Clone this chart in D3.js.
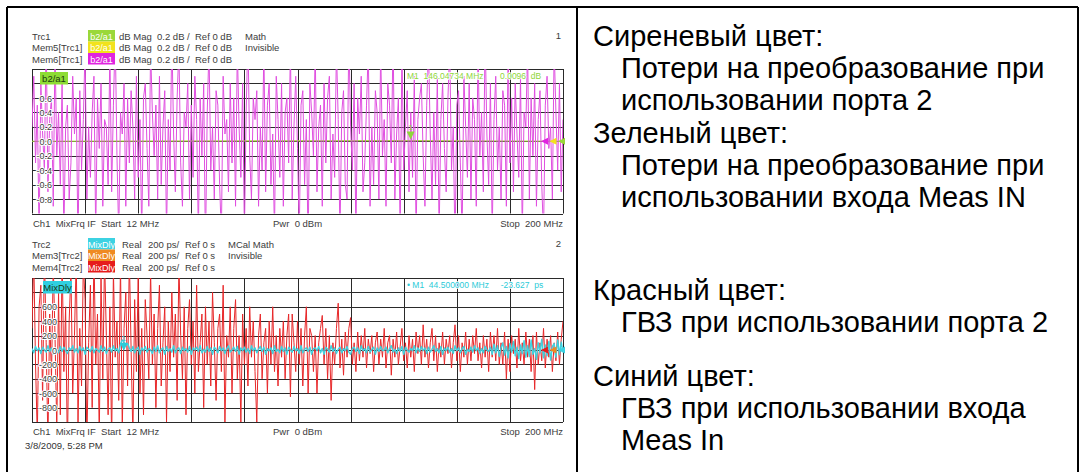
<!DOCTYPE html>
<html>
<head>
<meta charset="utf-8">
<script src="https://cdn.jsdelivr.net/npm/d3@7"></script>
<style>
  body { margin: 0; background: #fff; }
  svg text { font-family: "Liberation Sans", Arial, sans-serif; }
</style>
</head>
<body>
<svg id="chart" width="1082" height="472"></svg>
<script>
// sweep
const startMHz = 12;
const stopMHz = 200;

// tick labels (top one sits under the trace label box, not printed)
const dbTicks = [0.6, 0.4, 0.2, 0.0, -0.2, -0.4, -0.6, -0.8];
const psTicks = [600, 400, 200, 0, -200, -400, -600, -800];

// header rows of the two diagrams
const diag1Rows = [
    { name: 'Trc1', tag: 'b2/a1', color: '#9ad83a', fmt: 'dB Mag', scale: '0.2 dB /', ref: 'Ref 0 dB', note: 'Math' },
    { name: 'Mem5[Trc1]', tag: 'b2/a1', color: '#f2e21c', fmt: 'dB Mag', scale: '0.2 dB /', ref: 'Ref 0 dB', note: 'Invisible' },
    { name: 'Mem6[Trc1]', tag: 'b2/a1', color: '#e024e0', fmt: 'dB Mag', scale: '0.2 dB /', ref: 'Ref 0 dB', note: '' }
];
const diag2Rows = [
    { name: 'Trc2', tag: 'MixDly', color: '#3cd2e2', fmt: 'Real', scale: '200 ps/', ref: 'Ref 0 s', note: 'MCal Math' },
    { name: 'Mem3[Trc2]', tag: 'MixDly', color: '#ef8a22', fmt: 'Real', scale: '200 ps/', ref: 'Ref 0 s', note: 'Invisible' },
    { name: 'Mem4[Trc2]', tag: 'MixDly', color: '#e61c1c', fmt: 'Real', scale: '200 ps/', ref: 'Ref 0 s', note: '' }
];

// Mem6[Trc1] conversion loss, port 2 (dB), 301 points
const mem6Trc1 = [
    0.2, 0.9, -0.3, 0.5, -1.3, 0.8, 0.1, -0.4, 1.5, -0.7, 0.3, 0.6, -0.9, 1.3, -0.2, 0.4, -0.6, 0.8, -1.3, 0.2,
    0.5, -0.8, -0.3, 0.9, 0.1, 0.6, -1.5, 0.7, -0.4, 0.3, 1.3, -0.8, 0.2, -0.5, 0.4, 0.9, -1.3, 0.6, -0.1, 0.8,
    -0.9, 0.3, 0.2, -0.6, 1.3, -0.7, 0.5, 1.5, -0.2, -1.3, 0.4, 0.1, 0.8, -0.9, 0.6, -0.3, 0.7, 0.2, -0.8, 0.9,
    -0.5, 0.3, -1.3, 0.6, 0.8, -0.1, -0.9, 1.3, 0.4, -0.2, 0.5, -0.8, 0.9, -0.6, 0.2, 0.7, -1.3, 0.3, -0.4, 1.5,
    0.1, -0.7, 0.6, 1.3, -0.3, -0.9, 0.4, 0.2, 0.8, -0.8, 0.5, -0.5, 0.9, 0.3, -1.3, 0.6, -0.2, 0.8, -1.5, 0.4,
    1.3, -0.4, 0.2, -0.8, 0.7, 0.5, -0.6, -1.3, 0.9, 0.1, 0.3, -0.7, 0.8, -0.3, 0.6, -0.9, 1.3, 0.2, -0.5, 0.8,
    -1.3, 0.4, 1.5, -0.2, -0.8, 0.6, 0.3, 0.7, -0.9, 0.2, -0.4, 1.3, -0.7, 0.5, 0.8, -0.6, 0.1, -1.3, 0.9, 0.3,
    -0.5, 0.8, -0.9, 0.4, 0.6, -0.3, 1.3, -0.8, 0.2, 0.9, -0.1, -1.3, 0.5, 0.7, -0.6, 0.3, -1.5, 0.8, 0.4, -0.2,
    1.3, -0.7, 0.2, 0.5, -0.9, 0.8, -0.3, 0.6, 0.9, -0.8, 0.1, -0.5, 1.3, 0.3, -1.3, 0.4, 0.7, -0.6, -0.8, 1.5,
    0.2, -0.4, 0.8, -1.3, 0.6, 0.1, 0.9, -0.7, -0.3, 0.5, 1.3, -0.9, 0.2, -0.6, 0.7, 0.4, -0.8, 1.3, -0.2, 0.3,
    -0.9, 0.8, 0.5, -0.3, 1.5, -0.8, 0.1, 0.6, -1.3, 1.3, -0.4, 0.2, 0.7, -0.7, 0.4, -0.5, 0.9, -1.3, 0.3, 0.6,
    0.8, -0.2, -0.9, 0.5, 1.3, 0.1, -0.8, 0.4, -0.6, 0.9, -1.3, 0.3, 0.8, -0.1, -0.7, 0.6, 1.3, -0.4, 0.2, -1.5,
    0.5, 0.7, -0.3, -1.3, 0.9, 0.2, -0.5, 0.8, -0.8, 0.6, 0.3, -0.9, 1.3, -0.2, 0.4, -0.7, 1.5, 0.1, -0.6, 0.8,
    -1.3, 0.3, 0.9, -0.4, 0.2, -0.8, 0.7, 0.5, -0.9, 1.3, -0.3, 0.6, -0.7, 0.8, 0.1, -0.5, 0.9, -1.3, 0.4, 0.2,
    1.3, -0.8, 0.6, -0.2, 0.8, -0.9, 0.3, 0.7, -0.6, -1.3, 0.5, 0.9, -0.1, 0.2, -0.8, 1.3, 0.4, -0.4, 0.8, -0.7, 0.3
];

// Trc1 math result (dB) at start, marker, stop
const trc1Freq = [12, 146.04734, 200];
const trc1Math = [0.0, 0.0096, 0.0];

// Mem4[Trc2] group delay, port 2 (ps), 301 points
const mem4Trc2 = [
    300, 1300, -200, -1200, 600, 900, -700, 1400, 100, -1300, 500, -400, 1200, 200, -1100, 800, -900, 1300, -300, 600,
    -1400, 400, 1100, -600, 200, 1300, -1000, 300, -500, 1200, 700, -1300, 100, 900, -800, 1400, -200, 500, -1200, 1000,
    -400, 1300, 200, -900, 600, -1300, 1100, -100, 400, -700, 1200, -1100, 300, 800, -500, 1300, 0, -1200, 700, -300,
    1000, -600, 300, -900, 700, 200, -400, 1100, -200, 500, -800, 300, 900, -500, 100, 600, -1000, 400, -300, 800,
    -100, 500, -700, 1200, 200, -400, 600, -900, 300, 700, -200, 400, -600, 900, -300, 100, 500, -800, 600, -200,
    400, -500, 800, 100, -700, 300, 500, -300, 900, -1000, 200, -100, 600, -600, 300, 700, -400, 200, -1000, 500,
    -200, 300, -500, 600, -100, 400, -300, -1000, 200, 500, -400, 100, 300, -600, 400, -200, 600, -300, 200, -500,
    300, -100, 400, -400, 200, 500, -650, 500, 100, -300, 400, -200, 300, -500, 200, 600, -600, 300, 200, -300,
    200, -600, 100, 300, 480, -200, 300, -400, 200, -700, 100, -200, 300, 650, -250, 150, -350, 250, -100, 300,
    450, -200, 100, -300, 250, -150, 200, -100, 300, -250, 150, -50, 200, -300, 100, 250, -200, 150, -100, 300,
    -250, 100, 200, -350, 150, -100, 250, -200, 50, 300, -150, 100, -250, 200, -100, 150, -300, 250, -50, 200,
    -200, 350, -100, 150, -250, 100, 300, -150, 200, -300, 100, -100, 250, -200, 150, -50, 200, -250, 100, 350,
    -150, 200, -300, 100, -100, 250, -200, 150, -150, 200, -50, 300, -150, 100, -250, 200, -100, 150, -300, 250,
    -100, 200, -150, 300, -200, 100, -200, 250, -400, 150, -300, 200, -50, 150, -250, 300, -150, 100, -200, 250,
    -100, 150, -300, 200, -550, 250, -200, 100, -150, 300, -250, 150, -100, 200, -300, 100, -150, 250, -200, 150, 400
];

// Trc2 group delay, Meas IN (ps), 301 points
const trc2Delay = [
    20, -40, 50, -10, 30, -50, 40, 0, -30, 60, -20, 30, -60, 20, 10, -40, 50, -20, 40, -10,
    -50, 30, 0, 60, -30, 20, -40, 50, -10, 30, -60, 40, 10, -20, 50, -40, 20, 0, -30, 60,
    -20, 40, -50, 10, 30, -30, 60, -10, 20, -40, 80, 140, 110, 60, 90, 30, -20, 50, -40, 10,
    40, -60, 30, -10, 50, -30, 20, 0, -50, 40, -20, 60, -40, 10, 30, -60, 50, -20, 20, -30,
    60, -40, 10, 30, -50, 40, -10, 20, -30, 50, -60, 30, 0, 40, -20, 60, -40, 10, -30, 50,
    -20, 30, -60, 40, 10, -40, 50, -10, 30, -50, 20, 60, -30, 0, 40, -20, 50, -60, 30, -10,
    40, -30, 20, -50, 60, -10, 30, -40, 10, 50, -20, 40, -60, 20, -10, 30, -50, 60, -20, 10,
    -40, 50, -20, 30, -60, 40, 0, -30, 50, -10, 20, -50, 60, -40, 10, 30, -20, 40, -60, 20,
    30, -10, 50, -40, 20, -60, 40, 10, -30, 60, -20, 30, -50, 10, 40, -40, 20, -10, 50, -30,
    -60, 20, 40, -20, 30, -50, 60, -10, 20, -40, 50, -30, 10, 40, -60, 30, -20, 50, -10, 0,
    40, -40, 20, 60, -30, 10, -50, 30, -20, 50, -60, 40, 0, -30, 20, -10, 60, -40, 30, -20,
    50, -10, 30, -50, 40, -30, 10, 60, -20, 20, -40, 50, -60, 30, -10, 40, -30, 20, -50, 60,
    -10, 30, -40, 20, 50, -60, 10, -20, 40, -30, 60, -10, 30, -50, 20, -40, 50, 0, -20, 40,
    -60, 80, -40, 60, -90, 30, 100, -70, 50, -110, 90, -30, 120, -80, 40, -120, 70, -50, 130, -100,
    60, -90, 140, -60, 20, -130, 100, -40, 150, -110, 70, -80, 120, -140, 50, 90, -100, 140, -60, 110, -30
];

const marker1 = { f: 146.04734, v: 0.0096 };
const marker2 = { f: 44.5, v: -23.627 };

// text on the right
const legendGroups = [
    { title: 'Сиреневый цвет:', lines: ['Потери на преобразование при', 'использовании порта 2'] },
    { title: 'Зеленый цвет:', lines: ['Потери на преобразование при', 'использовании входа Meas IN'] },
    { title: 'Красный цвет:', lines: ['ГВЗ при использовании порта 2'] },
    { title: 'Синий цвет:', lines: ['ГВЗ при использовании входа', 'Meas In'] }
];

// ---------------------------------------------------------------
const svg = d3.select('#chart');
const plotLeft = 32, plotRight = 563;
const textGrey = '#3c3c3c';

// frame of the slide
svg.append('g').attr('stroke', '#000').attr('stroke-width', 2)
    .selectAll('line')
    .data([[7, 7, 1078, 7], [7, 7, 7, 480], [577, 7, 577, 480], [1078, 7, 1078, 480]])
    .enter().append('line')
    .attr('x1', d => d[0]).attr('y1', d => d[1]).attr('x2', d => d[2]).attr('y2', d => d[3]);

const xScale = d3.scaleLinear().domain([startMHz, stopMHz]).range([plotLeft, plotRight]);

function drawDiagram(cfg) {
    const g = svg.append('g');
    const yScale = d3.scaleLinear().domain(cfg.domain).range([cfg.bottom, cfg.top]);

    // header rows
    cfg.rows.forEach((r, i) => {
        const cy = cfg.headerY + i * 11.5;
        g.append('text').attr('x', 32).attr('y', cy + 3.5).attr('fill', textGrey)
            .style('font-size', '9.5px').text(r.name);
        g.append('rect').attr('x', 88).attr('y', cy - 6).attr('width', 27).attr('height', 11.5)
            .attr('fill', r.color);
        g.append('text').attr('x', 101.5).attr('y', cy + 3.5).attr('fill', '#fff')
            .attr('text-anchor', 'middle').style('font-size', '9px').text(r.tag);
        [r.fmt, r.scale, r.ref, r.note].forEach((t, k) => {
            g.append('text').attr('x', cfg.fmtX[k]).attr('y', cy + 3.5).attr('fill', textGrey)
                .style('font-size', '9.5px').text(t);
        });
    });
    g.append('text').attr('x', 561).attr('y', cfg.headerY + 3).attr('text-anchor', 'end')
        .attr('fill', textGrey).style('font-size', '9.5px').text(cfg.number);

    // grid, 10 x 10 divisions
    const vDiv = d3.range(11).map(i => startMHz + i * (stopMHz - startMHz) / 10);
    const hDiv = d3.range(11).map(i => cfg.domain[0] + i * (cfg.domain[1] - cfg.domain[0]) / 10);
    g.append('g').attr('stroke', '#2a2a2a').attr('stroke-width', 1)
        .selectAll('line').data(vDiv).enter().append('line')
        .attr('x1', d => Math.round(xScale(d)) + 0.5).attr('x2', d => Math.round(xScale(d)) + 0.5)
        .attr('y1', cfg.top).attr('y2', cfg.bottom);
    g.append('g').attr('stroke', '#2a2a2a').attr('stroke-width', 1)
        .selectAll('line').data(hDiv).enter().append('line')
        .attr('y1', d => Math.round(yScale(d)) + 0.5).attr('y2', d => Math.round(yScale(d)) + 0.5)
        .attr('x1', plotLeft).attr('x2', plotRight);

    // traces
    const clipId = 'clip' + cfg.number;
    svg.append('defs').append('clipPath').attr('id', clipId).append('rect')
        .attr('x', plotLeft).attr('y', cfg.top).attr('width', plotRight - plotLeft).attr('height', cfg.bottom - cfg.top);
    const traces = g.append('g').attr('clip-path', `url(#${clipId})`);
    cfg.traces.forEach(t => {
        const idx = d3.scaleLinear().domain([0, t.values.length - 1]).range([startMHz, stopMHz]);
        const line = d3.line()
            .x((d, i) => xScale(t.freq ? t.freq[i] : idx(i)))
            .y(d => yScale(d));
        traces.append('path').datum(t.values)
            .attr('d', line).attr('fill', 'none')
            .attr('stroke', t.color).attr('stroke-width', t.width)
            .attr('stroke-linejoin', 'round');
    });

    // y labels inside the diagram
    const axis = d3.axisLeft(yScale).tickValues(cfg.ticks).tickSize(0).tickPadding(0)
        .tickFormat(cfg.format);
    const ax = g.append('g').attr('transform', `translate(${cfg.labelX},0)`).call(axis);
    ax.select('.domain').remove();
    ax.selectAll('text').attr('fill', textGrey).style('font-size', '9px')
        .attr('stroke', '#fff').attr('stroke-width', 2).attr('paint-order', 'stroke')
        .attr('dy', '0.35em');

    // trace label box in diagram
    g.append('rect').attr('x', cfg.tagBox[0]).attr('y', cfg.top + 3).attr('width', cfg.tagBox[1])
        .attr('height', 12.5).attr('fill', cfg.tagColor);
    g.append('text').attr('x', cfg.tagBox[0] + cfg.tagBox[1] / 2).attr('y', cfg.top + 12.8)
        .attr('text-anchor', 'middle').attr('fill', '#1a3a10').style('font-size', '9.5px').text(cfg.tag);

    // footer
    const fy = cfg.bottom + 13;
    g.append('text').attr('x', 33).attr('y', fy).attr('fill', textGrey).style('font-size', '9.5px')
        .attr('xml:space', 'preserve').text('Ch1  MixFrq IF  Start  12 MHz');
    g.append('text').attr('x', 273).attr('y', fy).attr('fill', textGrey).style('font-size', '9.5px')
        .attr('xml:space', 'preserve').text('Pwr  0 dBm');
    g.append('text').attr('x', 563).attr('y', fy).attr('text-anchor', 'end').attr('fill', textGrey)
        .style('font-size', '9.5px').attr('xml:space', 'preserve').text('Stop  200 MHz');

    // marker
    const mx = xScale(cfg.marker.f), my = yScale(cfg.marker.v);
    g.append('path').attr('d', `M${mx - 4},${my - 9}L${mx + 4},${my - 9}L${mx},${my - 1}Z`)
        .attr('fill', cfg.markerColor);
    g.append('text').attr('x', mx).attr('y', my - 11).attr('text-anchor', 'middle')
        .attr('fill', cfg.markerColor).style('font-size', '8px').text('1');
    g.append('text').attr('x', 407).attr('y', cfg.top + 10).attr('fill', cfg.markerColor)
        .attr('stroke', '#fff').attr('stroke-width', 1.5).attr('paint-order', 'stroke')
        .style('font-size', '8.5px').attr('xml:space', 'preserve').text(cfg.readout);

    // reference arrows at right edge
    cfg.arrows.forEach((c, i) => {
        const ax0 = 541 + i * 8.5, ay = yScale(0);
        g.append('path').attr('d', `M${ax0},${ay}L${ax0 + 7},${ay - 3.5}L${ax0 + 7},${ay + 3.5}Z`).attr('fill', c);
    });
}

drawDiagram({
    number: '1', rows: diag1Rows, headerY: 36, fmtX: [119, 157, 195, 245],
    top: 69, bottom: 213.5, domain: [-1, 1], ticks: dbTicks, format: d => d.toFixed(1), labelX: 52,
    traces: [
        { values: trc1Math, freq: trc1Freq, color: '#a6dc3c', width: 1.2 },
        { values: mem6Trc1, color: '#e050e0', width: 1 }
    ],
    tag: 'b2/a1', tagColor: '#8edc34', tagBox: [40, 28],
    marker: marker1, markerColor: '#8fd63a',
    readout: 'M1  146.04734 MHz       0.0096  dB',
    arrows: ['#e024e0', '#f2e21c', '#9ad83a']
});

drawDiagram({
    number: '2', rows: diag2Rows, headerY: 244, fmtX: [122, 148, 185, 228],
    top: 278, bottom: 422, domain: [-1000, 1000], ticks: psTicks, format: d => String(d), labelX: 57,
    traces: [
        { values: mem4Trc2, color: '#e8282a', width: 1 },
        { values: trc2Delay, color: '#3fd3e0', width: 1.4 }
    ],
    tag: 'MixDly', tagColor: '#30cfe0', tagBox: [43, 29],
    marker: marker2, markerColor: '#2ccbd8',
    readout: '• M1  44.500000 MHz     -23.627  ps',
    arrows: ['#e61c1c', '#ef8a22', '#3cd2e2']
});

svg.append('text').attr('x', 25).attr('y', 449).attr('fill', '#333').style('font-size', '9.5px')
    .text('3/8/2009, 5:28 PM');

// right-hand explanation
const groupTop = [46, 143, 300, 386];
const lineStep = 32;
legendGroups.forEach((grp, gi) => {
    svg.append('text').attr('x', 593).attr('y', groupTop[gi]).attr('fill', '#000')
        .style('font-size', '29px').text(grp.title);
    grp.lines.forEach((ln, li) => {
        svg.append('text').attr('x', 621).attr('y', groupTop[gi] + (li + 1) * lineStep)
            .attr('fill', '#000').style('font-size', '29px').text(ln);
    });
});
</script>
</body>
</html>
